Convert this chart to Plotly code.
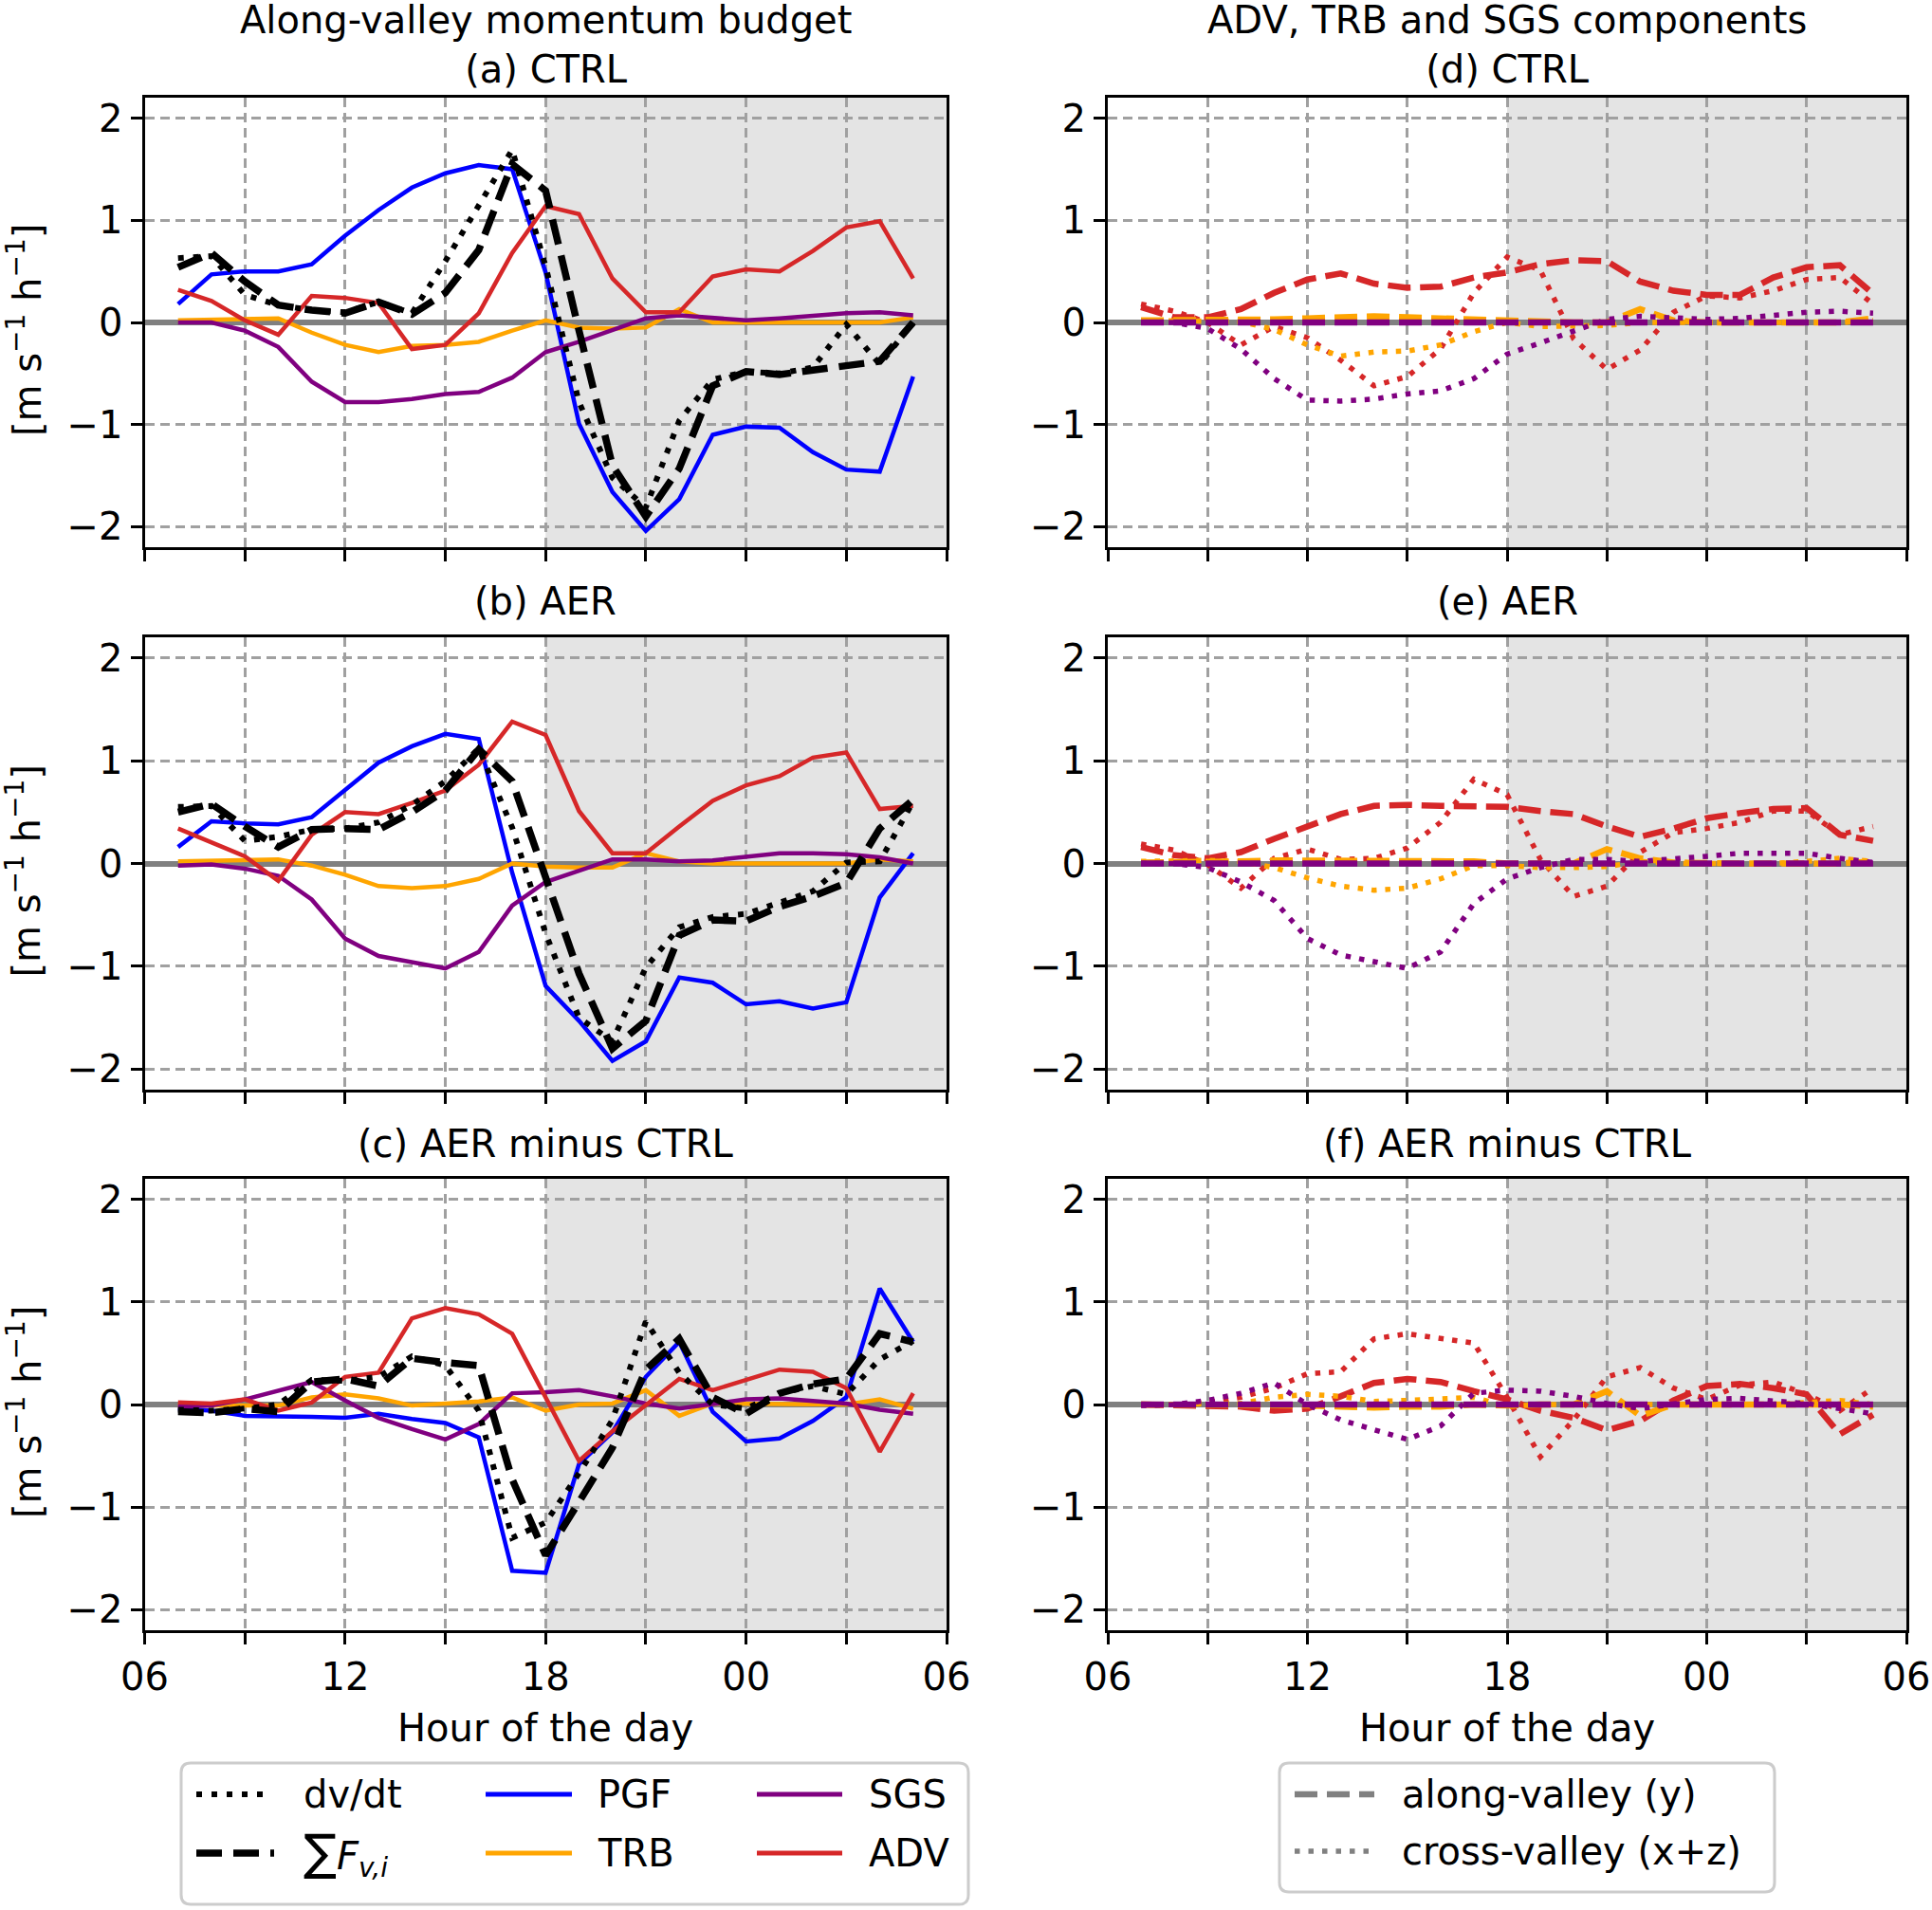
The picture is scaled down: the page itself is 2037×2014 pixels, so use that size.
import plotly.graph_objects as go

W, H = 2037, 2014

# ---- data ----
hours = [7, 8, 9, 10, 11, 12, 13, 14, 15, 16, 17, 18, 19, 20, 21, 22, 23, 24, 25, 26, 27, 28, 29]
tick_hours = [6, 12, 18, 24, 30]
tick_text = ["06", "12", "18", "00", "06"]
y_ticks = [-2, -1, 0, 1, 2]
y_tick_text = ["\u22122", "\u22121", "0", "1", "2"]
night_start, night_end = 18, 30

# along-valley momentum budget, CTRL
dvdt_ctrl = [0.63, 0.65, 0.27, 0.17, 0.12, 0.10, 0.20, 0.09, 0.60, 1.15, 1.69, 0.55, -0.78, -1.52, -1.81, -0.96, -0.56, -0.48, -0.50, -0.44, -0.02, -0.41, 0.00]
sumf_ctrl = [0.54, 0.68, 0.40, 0.17, 0.12, 0.09, 0.20, 0.08, 0.29, 0.71, 1.55, 1.29, -0.08, -1.40, -1.90, -1.43, -0.62, -0.48, -0.51, -0.47, -0.42, -0.38, 0.00]
pgf_ctrl = [0.18, 0.47, 0.50, 0.50, 0.57, 0.85, 1.10, 1.32, 1.46, 1.54, 1.50, 0.49, -0.99, -1.66, -2.04, -1.73, -1.10, -1.02, -1.03, -1.27, -1.44, -1.46, -0.53]
trb_ctrl = [0.02, 0.03, 0.04, 0.04, -0.10, -0.22, -0.29, -0.23, -0.22, -0.19, -0.08, 0.02, -0.05, -0.06, -0.05, 0.13, 0.00, 0.00, 0.00, 0.00, 0.00, 0.00, 0.05]
sgs_ctrl = [0.00, 0.00, -0.08, -0.24, -0.58, -0.78, -0.78, -0.75, -0.70, -0.68, -0.54, -0.29, -0.19, -0.08, 0.04, 0.07, 0.04, 0.02, 0.04, 0.07, 0.09, 0.10, 0.07]
adv_ctrl = [0.32, 0.21, 0.02, -0.12, 0.26, 0.24, 0.19, -0.26, -0.22, 0.09, 0.68, 1.14, 1.06, 0.43, 0.10, 0.10, 0.45, 0.52, 0.50, 0.70, 0.93, 0.99, 0.43]

# AER
dvdt_aer = [0.55, 0.56, 0.22, 0.26, 0.33, 0.34, 0.40, 0.57, 0.80, 1.12, 0.35, -0.68, -1.50, -1.73, -1.01, -0.62, -0.52, -0.49, -0.38, -0.27, 0.01, 0.02, 0.60]
sumf_aer = [0.50, 0.58, 0.36, 0.16, 0.33, 0.34, 0.33, 0.50, 0.71, 1.11, 0.80, -0.15, -1.07, -1.80, -1.53, -0.70, -0.55, -0.56, -0.42, -0.32, -0.19, 0.34, 0.62]
pgf_aer = [0.16, 0.41, 0.39, 0.38, 0.45, 0.71, 0.98, 1.14, 1.26, 1.21, -0.09, -1.19, -1.53, -1.92, -1.73, -1.11, -1.16, -1.37, -1.34, -1.41, -1.35, -0.33, 0.10]
trb_aer = [0.02, 0.03, 0.03, 0.04, -0.02, -0.11, -0.22, -0.24, -0.22, -0.15, 0.00, -0.03, -0.04, -0.04, 0.10, 0.02, 0.00, 0.00, 0.00, 0.00, 0.00, 0.04, 0.02]
sgs_aer = [-0.02, -0.01, -0.05, -0.12, -0.35, -0.73, -0.90, -0.96, -1.02, -0.86, -0.41, -0.18, -0.07, 0.04, 0.04, 0.02, 0.03, 0.07, 0.10, 0.10, 0.09, 0.06, 0.00]
adv_aer = [0.34, 0.21, 0.07, -0.17, 0.28, 0.50, 0.48, 0.59, 0.71, 0.96, 1.38, 1.25, 0.51, 0.10, 0.10, 0.36, 0.61, 0.76, 0.85, 1.03, 1.08, 0.53, 0.56]

# AER minus CTRL
dvdt_diff = [-0.05, -0.06, -0.04, 0.00, 0.24, 0.23, 0.27, 0.47, 0.38, -0.06, -1.30, -1.15, -0.67, -0.15, 0.81, 0.31, 0.00, -0.04, 0.11, 0.18, 0.10, 0.44, 0.62]
sumf_diff = [-0.07, -0.08, -0.04, -0.07, 0.22, 0.25, 0.18, 0.45, 0.41, 0.38, -0.73, -1.47, -0.95, -0.42, 0.34, 0.64, 0.07, -0.09, 0.11, 0.20, 0.25, 0.69, 0.61]
pgf_diff = [-0.04, -0.06, -0.11, -0.11, -0.12, -0.13, -0.09, -0.14, -0.18, -0.32, -1.62, -1.64, -0.58, -0.27, 0.27, 0.61, -0.07, -0.36, -0.33, -0.16, 0.07, 1.13, 0.61]
trb_diff = [-0.01, -0.01, -0.01, -0.01, 0.07, 0.10, 0.06, -0.01, 0.01, 0.03, 0.07, -0.06, 0.00, 0.01, 0.14, -0.11, 0.01, 0.01, 0.01, 0.00, 0.00, 0.05, -0.04]
sgs_diff = [-0.02, -0.01, 0.05, 0.14, 0.22, 0.04, -0.13, -0.24, -0.34, -0.19, 0.11, 0.12, 0.14, 0.08, 0.01, -0.04, 0.01, 0.05, 0.06, 0.03, 0.01, -0.05, -0.09]
adv_diff = [0.02, 0.01, 0.05, -0.06, 0.02, 0.27, 0.31, 0.84, 0.94, 0.88, 0.69, 0.07, -0.55, -0.26, -0.01, 0.25, 0.14, 0.24, 0.34, 0.32, 0.16, -0.46, 0.11]

# ADV, TRB and SGS split into along-valley (y) and cross-valley (x+z)
adv_y_ctrl = [0.15, 0.05, 0.05, 0.13, 0.29, 0.42, 0.48, 0.38, 0.34, 0.35, 0.44, 0.49, 0.57, 0.61, 0.60, 0.40, 0.31, 0.27, 0.27, 0.44, 0.54, 0.56, 0.28]
adv_xz_ctrl = [0.18, 0.11, 0.00, -0.22, -0.04, -0.15, -0.37, -0.62, -0.53, -0.26, 0.29, 0.64, 0.51, -0.16, -0.46, -0.27, 0.10, 0.26, 0.24, 0.31, 0.42, 0.44, 0.18]
trb_y_ctrl = [0.02, 0.02, 0.03, 0.03, 0.03, 0.04, 0.05, 0.06, 0.05, 0.04, 0.02, 0.01, 0.00, 0.00, 0.00, 0.13, 0.02, 0.00, 0.00, 0.00, 0.00, 0.00, 0.04]
trb_xz_ctrl = [0.02, 0.02, 0.02, 0.01, -0.07, -0.22, -0.33, -0.29, -0.28, -0.22, -0.09, 0.00, -0.04, -0.04, -0.03, 0.00, 0.00, 0.00, 0.00, 0.00, 0.00, 0.00, 0.02]
sgs_y_ctrl = [0.00, 0.00, 0.00, 0.00, 0.00, 0.00, 0.00, 0.00, 0.00, 0.00, 0.00, 0.00, 0.00, 0.00, 0.00, 0.00, 0.00, 0.00, 0.00, 0.00, 0.00, 0.00, 0.00]
sgs_xz_ctrl = [0.00, 0.00, -0.06, -0.26, -0.55, -0.76, -0.77, -0.75, -0.70, -0.67, -0.55, -0.31, -0.20, -0.09, 0.03, 0.06, 0.04, 0.03, 0.04, 0.07, 0.10, 0.11, 0.09]

adv_y_aer = [0.16, 0.08, 0.05, 0.11, 0.24, 0.36, 0.48, 0.56, 0.57, 0.56, 0.55, 0.55, 0.51, 0.48, 0.36, 0.26, 0.34, 0.44, 0.49, 0.53, 0.54, 0.28, 0.22]
adv_xz_aer = [0.19, 0.13, -0.01, -0.24, 0.05, 0.14, 0.04, 0.05, 0.15, 0.40, 0.82, 0.67, 0.04, -0.32, -0.22, 0.11, 0.30, 0.34, 0.40, 0.51, 0.51, 0.28, 0.36]
trb_y_aer = [0.01, 0.01, 0.02, 0.02, 0.03, 0.03, 0.03, 0.03, 0.03, 0.02, 0.02, 0.00, 0.00, 0.00, 0.14, 0.05, 0.01, 0.00, 0.00, 0.00, 0.00, 0.00, 0.02]
trb_xz_aer = [0.02, 0.03, 0.03, 0.02, -0.04, -0.14, -0.22, -0.26, -0.24, -0.15, -0.02, -0.02, -0.04, -0.04, -0.03, 0.02, 0.00, 0.00, 0.00, 0.00, 0.02, 0.05, 0.02]
sgs_y_aer = [0.00, 0.00, 0.00, 0.00, 0.00, 0.00, 0.00, 0.00, 0.00, 0.00, 0.00, 0.00, 0.00, 0.00, 0.00, 0.00, 0.00, 0.00, 0.00, 0.00, 0.00, 0.00, 0.00]
sgs_xz_aer = [0.00, 0.00, -0.04, -0.18, -0.36, -0.73, -0.89, -0.96, -1.02, -0.86, -0.39, -0.15, -0.04, 0.04, 0.04, 0.02, 0.04, 0.07, 0.10, 0.10, 0.10, 0.05, 0.01]

adv_y_diff = [0.00, -0.01, -0.01, -0.02, -0.06, -0.04, 0.08, 0.21, 0.25, 0.22, 0.13, 0.05, -0.06, -0.13, -0.25, -0.16, 0.04, 0.18, 0.20, 0.16, 0.10, -0.29, -0.10]
adv_xz_diff = [0.00, 0.00, 0.02, 0.07, 0.16, 0.30, 0.32, 0.64, 0.69, 0.65, 0.60, 0.07, -0.51, -0.15, 0.27, 0.36, 0.16, 0.05, 0.19, 0.22, 0.10, -0.06, 0.16]
trb_y_diff = [0.00, 0.00, 0.00, 0.00, 0.00, -0.01, -0.02, -0.03, -0.02, -0.02, 0.00, -0.01, 0.00, 0.00, 0.13, -0.11, 0.00, 0.00, 0.00, 0.00, 0.00, 0.00, -0.02]
trb_xz_diff = [0.00, 0.00, 0.00, 0.01, 0.07, 0.10, 0.08, 0.03, 0.04, 0.05, 0.07, -0.02, 0.00, 0.00, 0.00, 0.00, 0.00, 0.00, 0.00, 0.00, 0.02, 0.04, 0.00]
sgs_y_diff = [0.00, 0.00, 0.00, 0.00, 0.00, 0.00, 0.00, 0.00, 0.00, 0.00, 0.00, 0.00, 0.00, 0.00, 0.00, 0.00, 0.00, 0.00, 0.00, 0.00, 0.00, 0.00, 0.00]
sgs_xz_diff = [-0.01, 0.00, 0.04, 0.11, 0.21, 0.00, -0.15, -0.24, -0.34, -0.21, 0.11, 0.14, 0.13, 0.08, 0.01, -0.04, 0.01, 0.05, 0.06, 0.04, 0.01, -0.04, -0.09]

# ---- styles ----
FONT = "DejaVu Sans"
FS = 40
BLUE, ORANGE, PURPLE, RED = "rgb(0,0,255)", "rgb(255,165,0)", "rgb(128,0,128)", "rgb(214,39,40)"
GRID = "rgb(160,160,160)"
NIGHT = "rgb(228,228,228)"
DOT_K, DASH_K = "6px,10px", "27px,12px"
DOT_C, DASH_C = "5.5px,9px", "24px,10px"

col_x = [(152.5, 998), (1168, 2010)]
row_y = [(103, 577), (672, 1149), (1243, 1719)]


def px(x):
    return x / W


def py(y):
    return 1 - y / H


fig = go.Figure()
layout = {}
shapes = []
annotations = []


def note(x, y, text, xanchor="center", angle=0):
    annotations.append(dict(x=px(x), y=py(y), xref="paper", yref="paper", text=text,
                            showarrow=False, xanchor=xanchor, yanchor="middle",
                            textangle=angle, font=dict(size=FS, color="black")))


def add_panel(row, col, series):
    n = row * 2 + col + 1
    s = "" if n == 1 else str(n)
    xa, xb = col_x[col]
    ya, yb = row_y[row]
    grid = dict(showgrid=True, gridcolor=GRID, gridwidth=2.5, griddash="10px,6px")
    layout["xaxis" + s] = dict(domain=[px(xa), px(xb)], anchor="y" + s, range=[6, 30],
                               tickmode="array", tickvals=tick_hours, ticktext=tick_text,
                               showticklabels=(row == 2), ticks="outside", ticklen=12, tickwidth=3,
                               tickcolor="black", showline=True, linewidth=3, linecolor="black",
                               mirror=True, zeroline=False, automargin=False,
                               minor=dict(tick0=6, dtick=3, ticks="outside", ticklen=12,
                                          tickwidth=3, tickcolor="black", **grid),
                               tickfont=dict(size=FS, color="black"), **grid)
    layout["yaxis" + s] = dict(domain=[py(yb), py(ya)], anchor="x" + s, range=[-2.2, 2.2],
                               tickmode="array", tickvals=y_ticks, ticktext=y_tick_text,
                               ticks="outside", ticklen=12, tickwidth=3, tickcolor="black",
                               showline=True, linewidth=3, linecolor="black", mirror=True,
                               zeroline=True, zerolinecolor="rgb(128,128,128)", zerolinewidth=6,
                               automargin=False, tickfont=dict(size=FS, color="black"), **grid)
    shapes.append(dict(type="rect", xref="x" + s, yref="y" + s + " domain",
                       x0=night_start, x1=night_end, y0=0, y1=1,
                       fillcolor=NIGHT, line=dict(width=0), layer="below"))
    for vals, color, dash, width in series:
        fig.add_trace(go.Scatter(x=hours, y=vals, mode="lines",
                                 line=dict(color=color, dash=dash, width=width),
                                 xaxis="x" + s, yaxis="y" + s, showlegend=False, hoverinfo="skip"))


budget = [
    (pgf_ctrl, trb_ctrl, sgs_ctrl, adv_ctrl, dvdt_ctrl, sumf_ctrl),
    (pgf_aer, trb_aer, sgs_aer, adv_aer, dvdt_aer, sumf_aer),
    (pgf_diff, trb_diff, sgs_diff, adv_diff, dvdt_diff, sumf_diff),
]
components = [
    (adv_y_ctrl, adv_xz_ctrl, trb_y_ctrl, trb_xz_ctrl, sgs_y_ctrl, sgs_xz_ctrl),
    (adv_y_aer, adv_xz_aer, trb_y_aer, trb_xz_aer, sgs_y_aer, sgs_xz_aer),
    (adv_y_diff, adv_xz_diff, trb_y_diff, trb_xz_diff, sgs_y_diff, sgs_xz_diff),
]

for r, (pgf, trb, sgs, adv, dvdt, sumf) in enumerate(budget):
    add_panel(r, 0, [(pgf, BLUE, "solid", 4.5), (trb, ORANGE, "solid", 4.5),
                     (sgs, PURPLE, "solid", 4.5), (adv, RED, "solid", 4.5),
                     (dvdt, "black", DOT_K, 6), (sumf, "black", DASH_K, 7.5)])

for r, (ay, axz, ty, txz, sy, sxz) in enumerate(components):
    add_panel(r, 1, [(ay, RED, DASH_C, 6.5), (axz, RED, DOT_C, 5.5),
                     (ty, ORANGE, DASH_C, 6.5), (txz, ORANGE, DOT_C, 5.5),
                     (sy, PURPLE, DASH_C, 6.5), (sxz, PURPLE, DOT_C, 5.5)])

# ---- titles and labels ----
cx_left = sum(col_x[0]) / 2
cx_right = sum(col_x[1]) / 2
note(cx_left, 47, "Along-valley momentum budget<br>(a) CTRL")
note(cx_right, 47, "ADV, TRB and SGS components<br>(d) CTRL")
note(cx_left, 634, "(b) AER")
note(cx_right, 634, "(e) AER")
note(cx_left, 1206, "(c) AER minus CTRL")
note(cx_right, 1206, "(f) AER minus CTRL")
for ya, yb in row_y:
    note(26, (ya + yb) / 2 + 8, "[m s<sup>\u22121</sup> h<sup>\u22121</sup>]", angle=-90)
note(cx_left, 1822, "Hour of the day")
note(cx_right, 1822, "Hour of the day")


# ---- legends drawn by hand ----
def rounded_box(xa, ya, xb, yb, r=10):
    path = (f"M {px(xa + r)},{py(ya)} L {px(xb - r)},{py(ya)} "
            f"Q {px(xb)},{py(ya)} {px(xb)},{py(ya + r)} L {px(xb)},{py(yb - r)} "
            f"Q {px(xb)},{py(yb)} {px(xb - r)},{py(yb)} L {px(xa + r)},{py(yb)} "
            f"Q {px(xa)},{py(yb)} {px(xa)},{py(yb - r)} L {px(xa)},{py(ya + r)} "
            f"Q {px(xa)},{py(ya)} {px(xa + r)},{py(ya)} Z")
    shapes.append(dict(type="path", xref="paper", yref="paper", path=path,
                       fillcolor="white", line=dict(color="rgb(204,204,204)", width=3)))


def legend_item(xa, xb, y, color, dash, width, text, tx):
    shapes.append(dict(type="line", xref="paper", yref="paper", x0=px(xa), x1=px(xb),
                       y0=py(y), y1=py(y), line=dict(color=color, dash=dash, width=width)))
    note(tx, y, text, xanchor="left")


rounded_box(191, 1859, 1021, 2008)
legend_item(207, 282, 1892, "black", DOT_K, 6, "dv/dt", 318)
legend_item(207, 289, 1954, "black", DASH_K, 7.5,
            "<span style='font-size:52px'>\u2211</span><i>F</i><sub><i>v,i</i></sub>", 318)
legend_item(512, 603, 1892, BLUE, "solid", 5, "PGF", 628)
legend_item(512, 603, 1954, ORANGE, "solid", 5, "TRB", 628)
legend_item(798, 888, 1892, PURPLE, "solid", 5, "SGS", 914)
legend_item(798, 888, 1954, RED, "solid", 5, "ADV", 914)

rounded_box(1349, 1859, 1871, 1995)
legend_item(1365, 1449, 1892, "rgb(128,128,128)", DASH_C, 6.5, "along-valley (y)", 1476)
legend_item(1365, 1449, 1952, "rgb(128,128,128)", DOT_C, 5.5, "cross-valley (x+z)", 1476)

layout.update(dict(width=W, height=H,
                   margin=dict(l=0, r=0, t=0, b=0, pad=0, autoexpand=False),
                   paper_bgcolor="white", plot_bgcolor="white",
                   font=dict(family=FONT, size=FS, color="black"),
                   shapes=shapes, annotations=annotations, showlegend=False))
fig.update_layout(**layout)

# the page body has a default 8px margin; drop it so the figure fills the window
fig.write_html("out.html", config={"displayModeBar": False},
               post_script="document.body.style.margin='0px';document.body.style.overflow='hidden';")
